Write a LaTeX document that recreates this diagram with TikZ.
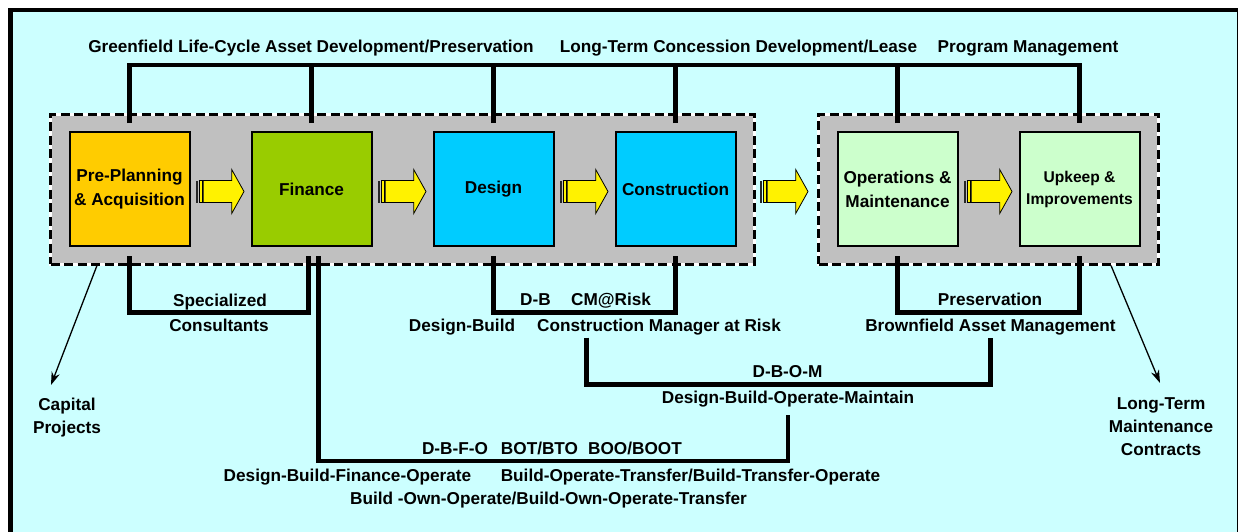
\documentclass[tikz,border=0pt]{standalone}
\usepackage{fontspec}
\setmainfont{Liberation Sans}
\usetikzlibrary{arrows.meta, positioning, fit, backgrounds}

\definecolor{skyfill}{HTML}{CCFFFF}
\definecolor{phasegray}{HTML}{C0C0C0}
\definecolor{preorange}{HTML}{FFCC00}
\definecolor{finegreen}{HTML}{99CC00}
\definecolor{buildblue}{HTML}{00CCFF}
\definecolor{keepgreen}{HTML}{CCFFCC}

\tikzset{
  stripedarrow/.pic={   % yellow striped block arrow, drawn from its left end
    \fill[black!85] (0,-11) rectangle (2.3,11);
    \draw[fill=yellow, line width=0.8pt] (2.9,-11) rectangle (6.5,11);
    \draw[fill=yellow, line width=0.8pt] (7.3,-11) -- (35.7,-11) -- (35.7,-22)
      -- (48,0) -- (35.7,22) -- (35.7,11) -- (7.3,11) -- cycle;
  }
}

\begin{document}
\begin{tikzpicture}[
      x = 1pt, y = -1pt,              % pixel-like units, y grows downwards
      > = {Stealth[length=13pt, width=8.5pt]},
      node distance = 60pt,           % gap between stage boxes
      line join = miter
    ]

    \tikzstyle{stage}=[      % Defines style for the stage boxes
      draw, line width = 2pt,
      minimum width = 120pt, minimum height = 114pt,
      align = center, inner sep = 2pt,
      font = \bfseries\fontsize{17.2}{24}\selectfont
    ]

    \tikzstyle{phase}=[      % Defines style for the dashed gray groups
      fill = phasegray, draw = white, line width = 3pt,
      inner xsep = 18pt, inner ysep = 17pt,
      postaction = {draw = black, line width = 3pt, dash pattern = on 9pt off 4.5pt}
    ]

    \tikzstyle{bracket}=[line width = 4.5pt]   % thick connectors
    \tikzstyle{pointer}=[->, line width = 1.3pt]
    \tikzstyle{lbl}=[inner sep = 0pt, anchor = base,
      font = \bfseries\fontsize{17.2}{23}\selectfont]

    \useasboundingbox (0,0) rectangle (1238,531);
    \clip (0,0) rectangle (1238,531);

    % Definition of the stage boxes
    \node[stage, fill=preorange] (pre) at (129.5,189) {Pre-Planning\\\& Acquisition};
    \node[stage, fill=finegreen] (fin) [right=of pre] {Finance};
    \node[stage, fill=buildblue] (des) [right=of fin] {Design};
    \node[stage, fill=buildblue] (con) [right=of des] {Construction};
    \node[stage, fill=keepgreen] (om) [right=100pt of con] {Operations \&\\Maintenance};
    \node[stage, fill=keepgreen, font=\bfseries\fontsize{15.6}{22}\selectfont] (upk) [right=of om] {Upkeep \&\\Improvements};

    % Frame and phase groups behind everything
    \begin{scope}[on background layer]
      \clip (0,0) rectangle (1238,531);
      \fill[white] (0,0) rectangle (1238,531);
      \draw[line width=4.5pt, fill=skyfill] (10.5,10) rectangle (1238.75,600);
      \node[phase, fit=(pre)(con)] (grp1) {};
      \node[phase, fit=(om)(upk)] (grp2) {};
    \end{scope}

    % Block arrows between the stages
    \pic at ([xshift=5.5pt,yshift=-2.5pt]pre.east) {stripedarrow};
    \pic at ([xshift=5.5pt,yshift=-2.5pt]fin.east) {stripedarrow};
    \pic at ([xshift=5.5pt,yshift=-2.5pt]des.east) {stripedarrow};
    \pic at ([xshift=23.5pt,yshift=-2.5pt]con.east) {stripedarrow};
    \pic at ([xshift=5.5pt,yshift=-2.5pt]om.east) {stripedarrow};

    % Labels
    \node[lbl] (green) at (311,52) {Greenfield Life-Cycle Asset Development/Preservation};
    \node[lbl] (lease) at (738.5,52) {Long-Term Concession Development/Lease};
    \node[lbl] (prog) at (1028,52) {Program Management};

    \node[lbl] (spec) at (220,306) {Specialized};
    \node[lbl] (cons) at (219,331) {Consultants};
    \node[lbl] (db) at (535.5,305) {D-B};
    \node[lbl] (cmat) at (611,305) {CM@Risk};
    \node[lbl] (dbtxt) at (462,331.7) {Design-Build};
    \node[lbl] (cmr) at (659,331.7) {Construction Manager at Risk};
    \node[lbl] (dbom) at (787.5,377.7) {D-B-O-M};
    \node[lbl] (dbomtxt) at (788,403) {Design-Build-Operate-Maintain};
    \node[lbl] (dbfo) at (455,454) {D-B-F-O};
    \node[lbl] (bot) at (539.5,454) {BOT/BTO};
    \node[lbl] (boo) at (635,454) {BOO/BOOT};
    \node[lbl] (dbfotxt) at (347.5,481.7) {Design-Build-Finance-Operate};
    \node[lbl] (bottxt) at (690.5,481.7) {Build-Operate-Transfer/Build-Transfer-Operate};
    \node[lbl] (bootxt) at (548.5,504) {Build -Own-Operate/Build-Own-Operate-Transfer};
    \node[lbl] (pres) at (990,305.7) {Preservation};
    \node[lbl] (brown) at (990.5,331.7) {Brownfield Asset Management};

    \node[lbl, anchor=north, align=center] (capital) at (67,397.6) {Capital\\Projects};
    \node[lbl, anchor=north, align=center] (ltm) at (1161,397.6) {Long-Term\\Maintenance\\Contracts};

    % Definition of the connectors
    \coordinate (topline) at (0,65);
    \coordinate (botline) at (0,312.5);
    \coordinate (dbomline) at (0,384.5);
    \coordinate (dbfoline) at (0,461);
    \coordinate (captip) at (51,385);
    \coordinate (ltmtip) at (1160,383);

    \draw[bracket] ([yshift=8pt]pre.north) |- (topline -| upk.north) -- ([yshift=8pt]upk.north);
    \draw[bracket] ([yshift=8pt]fin.north) -- (topline -| fin.north);
    \draw[bracket] ([yshift=8pt]des.north) -- (topline -| des.north);
    \draw[bracket] ([yshift=8pt]con.north) -- (topline -| con.north);
    \draw[bracket] ([yshift=8pt]om.north) -- (topline -| om.north);

    \draw[bracket] ([yshift=-9pt]pre.south) |- ([xshift=-3pt]botline -| fin.south) -- ([xshift=-3pt,yshift=-9pt]fin.south);
    \draw[bracket] ([yshift=-9pt]des.south) |- (botline -| con.south) -- ([yshift=-9pt]con.south);
    \draw[bracket] ([yshift=-9pt]om.south) |- (botline -| upk.south) -- ([yshift=-9pt]upk.south);
    \draw[bracket] ([xshift=49.5pt,yshift=-2pt]cmr.south west) |- (dbomline -| brown.south) -- ([yshift=-2pt]brown.south);
    \draw[bracket] ([xshift=7pt,yshift=-9pt]fin.south) |- (dbfoline -| dbomtxt.south) -- ([yshift=-8pt]dbomtxt.south);

    \draw[pointer] ([xshift=48pt]grp1.south west) -- (captip);
    \draw[pointer] ([xshift=-49pt]grp2.south east) -- (ltmtip);

\end{tikzpicture}
\end{document}
